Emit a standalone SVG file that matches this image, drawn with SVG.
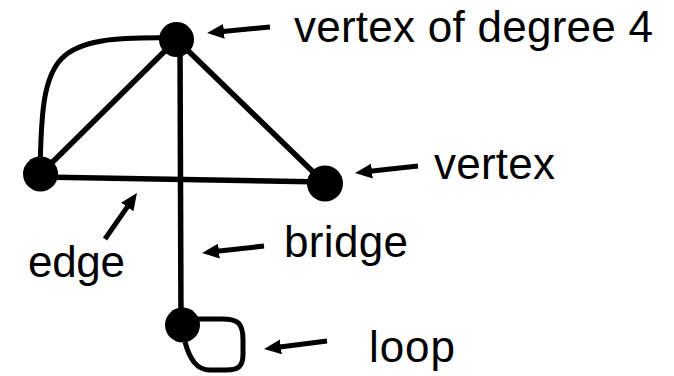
<svg xmlns="http://www.w3.org/2000/svg" width="674" height="376" viewBox="0 0 674 376">
<style>
.edge{stroke:#000;stroke-width:5.5;fill:none;stroke-linecap:butt}
.curve{stroke:#000;stroke-width:5;fill:none}
.vtx{fill:#000}
.arr{stroke:#000;stroke-width:5;fill:none;marker-end:url(#ah)}
.lbl{font-family:"Liberation Sans",Arial,sans-serif;font-size:44px;fill:#000}
</style>
<defs>
<marker id="ah" markerUnits="userSpaceOnUse" markerWidth="17" markerHeight="15" viewBox="0 0 17 15" refX="9" refY="7.5" orient="auto">
<path d="M0,0 L17,7.5 L0,15 z" fill="#000"/>
</marker>
</defs>
<rect width="674" height="376" fill="#fff"/>
<g id="connectors">
<path class="curve" d="M176,38 C50,36 42,50 40,174"/>
<line class="edge" x1="176.5" y1="39.5" x2="40.5" y2="174"/>
<line class="edge" x1="176.5" y1="39.5" x2="325" y2="183.5"/>
<line class="edge" x1="40.5" y1="177" x2="325" y2="182"/>
<line class="edge" x1="180" y1="40" x2="181" y2="325"/>
<path class="curve" d="M195,319 L222,319 C238,319 243,323 243,340 L243,354 C243,367 238,370 226,370 L210,370 C197,370 190,360 185,342"/>
</g>
<g id="v-top"><circle class="vtx" cx="176.5" cy="39.5" r="17.5"/></g>
<g id="v-left"><circle class="vtx" cx="40.5" cy="174" r="17.5"/></g>
<g id="v-right"><circle class="vtx" cx="325" cy="183.5" r="18"/></g>
<g id="v-bottom"><circle class="vtx" cx="182.5" cy="325" r="17.5"/></g>
<g id="annotations">
<line class="arr" x1="270" y1="27" x2="215" y2="32.2"/>
<line class="arr" x1="418" y1="166" x2="363" y2="172.1"/>
<line class="arr" x1="105" y1="239" x2="132.4" y2="199.6"/>
<line class="arr" x1="264" y1="246" x2="210" y2="252.1"/>
<line class="arr" x1="327" y1="341" x2="272" y2="348"/>
</g>
<g id="labels">
<text class="lbl" x="294" y="42" textLength="359">vertex of degree 4</text>
<text class="lbl" x="434" y="179" textLength="121">vertex</text>
<text class="lbl" x="284" y="257" textLength="124">bridge</text>
<text class="lbl" x="28" y="277" textLength="97">edge</text>
<text class="lbl" x="369" y="362" textLength="86">loop</text>
</g>
</svg>
